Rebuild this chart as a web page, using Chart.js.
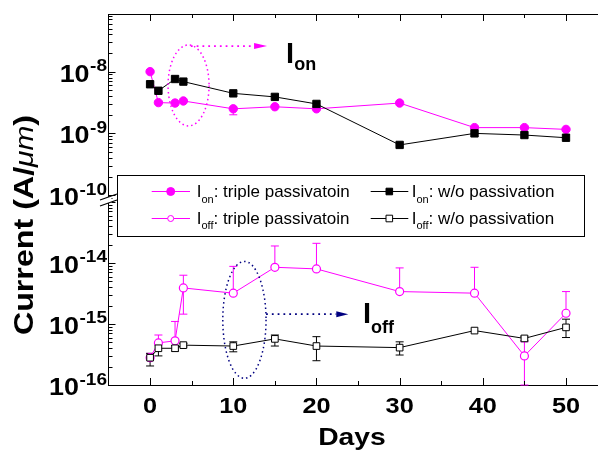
<!DOCTYPE html>
<html>
<head>
<meta charset="utf-8">
<script src="https://cdn.jsdelivr.net/npm/chart.js@4.4.0/dist/chart.umd.min.js"></script>
<style>
  html, body { margin: 0; padding: 0; background: #fff; overflow: hidden; }
  #wrap { width: 620px; height: 453px; }
</style>
</head>
<body>
<div id="wrap"><canvas id="chart" width="620" height="453"></canvas></div>
<script>
// Days of measurement
const days = [0, 1, 3, 4, 10, 15, 20, 30, 39, 45, 50];

// On-current (A/um)
const ionTriple = [1.0e-8, 3.15e-9, 3.1e-9, 3.35e-9, 2.5e-9, 2.7e-9, 2.5e-9, 3.1e-9, 1.24e-9, 1.24e-9, 1.16e-9];
const ionNone = [6.25e-9, 4.9e-9, 7.6e-9, 6.9e-9, 4.45e-9, 3.9e-9, 3.0e-9, 6.5e-10, 1.0e-9, 9.4e-10, 8.5e-10];

// Off-current (A/um)
const ioffTriple = [2.8e-16, 4.9e-16, 5.3e-16, 3.9e-15, 3.2e-15, 8.5e-15, 8.0e-15, 3.4e-15, 3.2e-15, 3.0e-16, 1.5e-15];
const ioffNone = [2.8e-16, 4.0e-16, 4.0e-16, 4.5e-16, 4.35e-16, 5.7e-16, 4.35e-16, 4.1e-16, 7.8e-16, 5.8e-16, 8.8e-16];

// Error bar ends (upper / lower), null = not drawn
const ionTripleHi = [null, null, null, null, null, null, null, null, null, null, null];
const ionTripleLo = [null, null, null, null, 2.0e-9, null, null, null, null, null, null];
const ioffTripleHi = [3.3e-16, 6.6e-16, 1.1e-15, 6.3e-15, 8.8e-15, 1.9e-14, 2.1e-14, 8.3e-15, 8.5e-15, 5.1e-16, 3.4e-15];
const ioffTripleLo = [null, null, null, 1.45e-15, null, null, null, null, null, 1.0e-16, null];
const ioffNoneHi = [3.3e-16, 4.7e-16, 4.4e-16, 4.8e-16, 5.1e-16, 6.6e-16, 6.2e-16, 5.1e-16, null, 6.3e-16, 1.2e-15];
const ioffNoneLo = [2.05e-16, 3.0e-16, 3.6e-16, 4.2e-16, 3.5e-16, 4.35e-16, 2.5e-16, 3.1e-16, null, 5.3e-16, 6.0e-16];

// Tick values
const dayTicks = [0, 10, 20, 30, 40, 50];
const dayMinorTicks = [5, 15, 25, 35, 45];
const topDecades = [-10, -9, -8];
const bottomDecades = [-16, -15, -14];

const MAGENTA = '#ff00ff';
const NAVY = '#000080';
const FONT = '"Liberation Sans", Arial, sans-serif';

function points(xs, ys) {
    return xs.map((d, i) => ({ x: d, y: ys[i] }));
}

// draw a row of text pieces (for subscripts / superscripts)
function drawRuns(ctx, parts, x, y, align, sx) {
    let total = 0;
    const widths = parts.map(p => {
        ctx.font = p.f;
        const w = ctx.measureText(p.t).width * sx;
        total += w;
        return w;
    });
    let cx = x;
    if (align === 'center') cx = x - total / 2;
    if (align === 'right') cx = x - total;
    parts.forEach((p, i) => {
        ctx.save();
        ctx.font = p.f;
        ctx.textAlign = 'left';
        ctx.textBaseline = 'alphabetic';
        ctx.translate(cx, y + (p.dy || 0));
        ctx.scale(sx, 1);
        ctx.fillText(p.t, 0, 0);
        ctx.restore();
        cx += widths[i];
    });
    return total;
}

function errorBars(ctx, chart, yId, hi, lo, color) {
    const xs = chart.scales.x;
    const ys = chart.scales[yId];
    ctx.save();
    ctx.strokeStyle = color;
    ctx.lineWidth = 1;
    days.forEach((d, i) => {
        const px = xs.getPixelForValue(d);
        const ends = [hi[i], lo[i]];
        ends.forEach(v => {
            if (v === null) return;
            const py = ys.getPixelForValue(v);
            const yc = ys.getPixelForValue(chart.data.datasets.find(ds => ds.yAxisID === yId && ds.errColor === color).data[i].y);
            ctx.beginPath();
            ctx.moveTo(px, yc);
            ctx.lineTo(px, py);
            ctx.moveTo(px - 4, py);
            ctx.lineTo(px + 4, py);
            ctx.stroke();
        });
    });
    ctx.restore();
}

function dottedEllipse(ctx, chart, yId, d1, d2, vTop, vBot, color) {
    const xs = chart.scales.x, ys = chart.scales[yId];
    const x1 = xs.getPixelForValue(d1), x2 = xs.getPixelForValue(d2);
    const y1 = ys.getPixelForValue(vTop), y2 = ys.getPixelForValue(vBot);
    ctx.save();
    ctx.strokeStyle = color;
    ctx.lineWidth = 1.5;
    ctx.setLineDash([1.5, 3]);
    ctx.beginPath();
    ctx.ellipse((x1 + x2) / 2, (y1 + y2) / 2, (x2 - x1) / 2, (y2 - y1) / 2, 0, 0, Math.PI * 2);
    ctx.stroke();
    ctx.restore();
}

function dottedArrow(ctx, chart, yId, d1, d2, v, color, headLen) {
    const xs = chart.scales.x, ys = chart.scales[yId];
    const x1 = xs.getPixelForValue(d1), x2 = xs.getPixelForValue(d2);
    const y = ys.getPixelForValue(v);
    ctx.save();
    ctx.strokeStyle = color;
    ctx.fillStyle = color;
    ctx.lineWidth = 1.8;
    ctx.setLineDash([1.8, 4]);
    ctx.beginPath();
    ctx.moveTo(x1, y);
    ctx.lineTo(x2 - headLen, y);
    ctx.stroke();
    ctx.beginPath();
    ctx.moveTo(x2, y);
    ctx.lineTo(x2 - headLen, y - 3);
    ctx.lineTo(x2 - headLen, y + 3);
    ctx.closePath();
    ctx.fill();
    ctx.restore();
}

const decorPlugin = {
    id: 'decor',
    beforeDatasetsDraw(chart) {
        const ctx = chart.ctx;
        errorBars(ctx, chart, 'yTop', ionTripleHi, ionTripleLo, MAGENTA);
        errorBars(ctx, chart, 'yBot', ioffTripleHi, ioffTripleLo, MAGENTA);
        errorBars(ctx, chart, 'yBot', ioffNoneHi, ioffNoneLo, '#000');
    },
    afterDraw(chart) {
        const ctx = chart.ctx;
        const area = chart.chartArea;
        const xs = chart.scales.x, yTop = chart.scales.yTop, yBot = chart.scales.yBot;

        ctx.save();
        ctx.strokeStyle = '#000';
        ctx.lineWidth = 1;
        // top frame line and right frame line
        ctx.beginPath();
        ctx.moveTo(area.left, Math.round(area.top) + 0.5);
        ctx.lineTo(area.right, Math.round(area.top) + 0.5);
        ctx.moveTo(area.right, area.top);
        ctx.lineTo(area.right, area.bottom);
        ctx.stroke();

        // x ticks, inward at bottom and top
        ctx.beginPath();
        dayTicks.concat(dayMinorTicks).forEach(v => {
            const len = dayTicks.includes(v) ? 7 : 4;
            const px = Math.round(xs.getPixelForValue(v)) + 0.5;
            ctx.moveTo(px, area.bottom);
            ctx.lineTo(px, area.bottom - len);
            ctx.moveTo(px, area.top);
            ctx.lineTo(px, area.top + len);
        });
        // y ticks, inward
        [[yTop, topDecades], [yBot, bottomDecades]].forEach(([sc, decs]) => {
            const first = decs[0];
            for (let e = first - 1; e <= decs[decs.length - 1] + 1; e++) {
                for (let m = 1; m <= 9; m++) {
                    const v = m * Math.pow(10, e);
                    if (v < sc.min || v > sc.max) continue;
                    const len = m === 1 ? 7 : 4;
                    const py = Math.round(sc.getPixelForValue(v)) + 0.5;
                    ctx.moveTo(area.left, py);
                    ctx.lineTo(area.left + len, py);
                }
            }
        });
        ctx.stroke();
        ctx.restore();

        // axis break
        ctx.save();
        ctx.fillStyle = '#fff';
        ctx.fillRect(area.left - 3, 197, 6, 6);
        ctx.strokeStyle = '#000';
        ctx.lineWidth = 1.2;
        ctx.beginPath();
        ctx.moveTo(100, 200);
        ctx.lineTo(117, 194);
        ctx.moveTo(100, 206);
        ctx.lineTo(117, 200);
        ctx.stroke();
        ctx.restore();

        // tick labels
        ctx.save();
        ctx.fillStyle = '#000';
        dayTicks.forEach(v => {
            drawRuns(ctx, [{ t: String(v), f: 'bold 22px ' + FONT }], xs.getPixelForValue(v), 413, 'center', 1.15);
        });
        [[yTop, topDecades], [yBot, bottomDecades]].forEach(([sc, decs]) => {
            decs.forEach(e => {
                const py = sc.getPixelForValue(Math.pow(10, e));
                const w = drawRuns(ctx, [{ t: '-' + Math.abs(e), f: 'bold 17px ' + FONT }], 107, py - 0.5, 'right', 1.12);
                drawRuns(ctx, [{ t: '10', f: 'bold 24px ' + FONT }], 106.5 - w, py + 10, 'right', 1.12);
            });
        });

        // axis titles
        drawRuns(ctx, [{ t: 'Days', f: 'bold 24px ' + FONT }], 352, 445, 'center', 1.18);
        ctx.save();
        ctx.translate(33, 225);
        ctx.rotate(-Math.PI / 2);
        drawRuns(ctx, [
            { t: 'Current (A/', f: 'bold 28px ' + FONT },
            { t: 'μm', f: 'italic 26px ' + FONT },
            { t: ')', f: 'bold 28px ' + FONT }
        ], 0, 0, 'center', 1.15);
        ctx.restore();
        ctx.restore();

        // annotations
        dottedEllipse(ctx, chart, 'yTop', 2.16, 7.09, 2.71e-8, 1.32e-9, MAGENTA);
        dottedArrow(ctx, chart, 'yTop', 4.9, 14.06, 2.6e-8, MAGENTA, 13);
        dottedEllipse(ctx, chart, 'yBot', 8.74, 13.94, 1.06e-14, 1.29e-16, NAVY);
        dottedArrow(ctx, chart, 'yBot', 13.94, 23.83, 1.45e-15, NAVY, 12);

        ctx.save();
        ctx.fillStyle = '#000';
        const onX = xs.getPixelForValue(16.35), onY = yTop.getPixelForValue(1.38e-8);
        drawRuns(ctx, [
            { t: 'I', f: 'bold 29px ' + FONT },
            { t: 'on', f: 'bold 18px ' + FONT, dy: 7 }
        ], onX, onY, 'left', 1.0);
        const offX = xs.getPixelForValue(25.6), offY = yBot.getPixelForValue(1.05e-15);
        drawRuns(ctx, [
            { t: 'I', f: 'bold 29px ' + FONT },
            { t: 'off', f: 'bold 18px ' + FONT, dy: 10 }
        ], offX, offY, 'left', 1.0);
        ctx.restore();

        // legend
        ctx.save();
        ctx.fillStyle = '#fff';
        ctx.fillRect(117.5, 175.5, 467, 61);
        ctx.strokeStyle = '#000';
        ctx.lineWidth = 1;
        ctx.strokeRect(117.5, 175.5, 467, 61);
        const rows = [
            { y: 191, base: 197, sub: 'on', dy: 6 },
            { y: 218, base: 224, sub: 'off', dy: 5 }
        ];
        const cols = [
            { x1: 151.7, x2: 190, mx: 170.7, tx: 196.7, color: MAGENTA, shape: 'circle', label: ': triple passivatoin' },
            { x1: 370.7, x2: 408.3, mx: 389.3, tx: 411.7, color: '#000', shape: 'rect', label: ': w/o passivation' }
        ];
        rows.forEach((r, ri) => {
            cols.forEach(c => {
                ctx.strokeStyle = c.color;
                ctx.lineWidth = 1;
                ctx.beginPath();
                ctx.moveTo(c.x1, r.y + 0.5);
                ctx.lineTo(c.x2, r.y + 0.5);
                ctx.stroke();
                const filled = ri === 0;
                ctx.fillStyle = filled ? c.color : '#fff';
                ctx.beginPath();
                if (c.shape === 'circle') {
                    ctx.arc(c.mx, r.y + 0.5, filled ? 4 : 3, 0, Math.PI * 2);
                } else {
                    ctx.rect(c.mx - 3.3, r.y - 2.8, 6.6, 6.6);
                }
                ctx.fill();
                ctx.stroke();
                ctx.fillStyle = '#000';
                drawRuns(ctx, [
                    { t: 'I', f: '17px ' + FONT },
                    { t: r.sub, f: '11px ' + FONT, dy: r.dy },
                    { t: c.label, f: '17px ' + FONT }
                ], c.tx, r.base, 'left', 1.0);
            });
        });
        ctx.restore();
    }
};

const ctx = document.getElementById('chart').getContext('2d');
new Chart(ctx, {
    type: 'line',
    data: {
        datasets: [
            {
                label: 'Ion: w/o passivation',
                data: points(days, ionNone),
                yAxisID: 'yTop',
                borderColor: '#000',
                borderWidth: 1,
                pointStyle: 'rect',
                pointRadius: 5.2,
                pointBackgroundColor: '#000',
                pointBorderColor: '#000',
                order: 0
            },
            {
                label: 'Ion: triple passivatoin',
                data: points(days, ionTriple),
                yAxisID: 'yTop',
                errColor: MAGENTA,
                borderColor: MAGENTA,
                borderWidth: 1,
                pointStyle: 'circle',
                pointRadius: 4.2,
                pointBackgroundColor: MAGENTA,
                pointBorderColor: MAGENTA,
                order: 1
            },
            {
                label: 'Ioff: w/o passivation',
                data: points(days, ioffNone),
                yAxisID: 'yBot',
                errColor: '#000',
                borderColor: '#000',
                borderWidth: 1,
                pointStyle: 'rect',
                pointRadius: 4.7,
                pointBackgroundColor: '#fff',
                pointBorderColor: '#000',
                pointBorderWidth: 1,
                order: 2
            },
            {
                label: 'Ioff: triple passivatoin',
                data: points(days, ioffTriple),
                yAxisID: 'yBot',
                errColor: MAGENTA,
                borderColor: MAGENTA,
                borderWidth: 1,
                pointStyle: 'circle',
                pointRadius: 4,
                pointBackgroundColor: '#fff',
                pointBorderColor: MAGENTA,
                pointBorderWidth: 1.2,
                order: 3
            }
        ]
    },
    options: {
        responsive: false,
        maintainAspectRatio: false,
        devicePixelRatio: 1,
        animation: false,
        events: [],
        layout: { padding: { left: 0, top: 14, right: 12.4, bottom: 0 } },
        plugins: { legend: { display: false }, tooltip: { enabled: false } },
        scales: {
            x: {
                type: 'linear',
                position: 'bottom',
                min: -5,
                max: 55,
                bounds: 'data',
                grid: { display: false, drawTicks: false },
                ticks: { display: false },
                border: { display: true, color: '#000', width: 1 },
                afterFit: function(scale) { scale.height = 68; }
            },
            yBot: {
                type: 'logarithmic',
                position: 'left',
                stack: 'current',
                stackWeight: 186.5,
                weight: 0,
                min: 1e-16,
                max: 1.14e-13,
                bounds: 'data',
                grid: { display: false, drawTicks: false },
                ticks: { display: false },
                border: { display: true, color: '#000', width: 1 },
                afterFit: function(scale) { scale.width = 108.5; }
            },
            yTop: {
                type: 'logarithmic',
                position: 'left',
                stack: 'current',
                stackWeight: 184.5,
                weight: 1,
                min: 8.81e-11,
                max: 8.59e-8,
                bounds: 'data',
                grid: { display: false, drawTicks: false },
                ticks: { display: false },
                border: { display: true, color: '#000', width: 1 },
                afterFit: function(scale) { scale.width = 108.5; }
            }
        }
    },
    plugins: [decorPlugin]
});
</script>
</body>
</html>
